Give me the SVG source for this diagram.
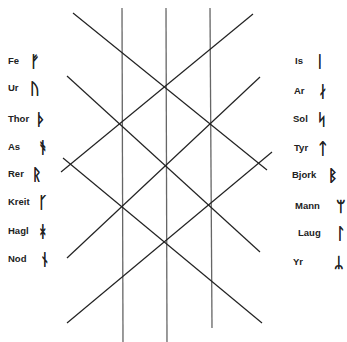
<svg xmlns="http://www.w3.org/2000/svg" width="347" height="342" viewBox="0 0 347 342">
<style>
.v{stroke:#666;stroke-width:1.3;fill:none}
.d{stroke:#222;stroke-width:1.2;fill:none}
.lbl{font-family:"Liberation Sans",Arial,sans-serif;font-size:9.5px;font-weight:bold;fill:#222}
.rune{font-family:"DejaVu Sans","Noto Sans","Liberation Sans",sans-serif;font-size:16px;fill:#222;stroke:#222;stroke-width:0.7;text-anchor:middle}
</style>
<rect width="347" height="342" fill="#fff"/>
<g id="connectors">
<line class="v" x1="122" y1="8" x2="123" y2="342"/>
<line class="v" x1="166" y1="8" x2="167" y2="342"/>
<line class="v" x1="210" y1="8" x2="212" y2="328"/>
<line class="d" x1="73" y1="13" x2="267" y2="170"/>
<line class="d" x1="253" y1="14" x2="61" y2="172"/>
<line class="d" x1="67" y1="76" x2="260" y2="252"/>
<line class="d" x1="260" y1="77" x2="67" y2="258"/>
<line class="d" x1="63" y1="158" x2="262" y2="323"/>
<line class="d" x1="272" y1="152" x2="67" y2="323"/>
</g>
<g id="fe"><text class="lbl" x="8" y="64">Fe</text><text class="rune" x="35" y="67">ᚠ</text></g>
<g id="ur"><text class="lbl" x="8" y="91">Ur</text><text class="rune" x="35" y="94">ᚢ</text></g>
<g id="thor"><text class="lbl" x="8" y="122">Thor</text><text class="rune" x="41" y="125">ᚦ</text></g>
<g id="as"><text class="lbl" x="8" y="150">As</text><text class="rune" x="43" y="153">ᚬ</text></g>
<g id="rer"><text class="lbl" x="8" y="177">Rer</text><text class="rune" x="37" y="180">ᚱ</text></g>
<g id="kreit"><text class="lbl" x="8" y="205">Kreit</text><text class="rune" x="43" y="208">ᚴ</text></g>
<g id="hagl"><text class="lbl" x="8" y="234">Hagl</text><text class="rune" x="43" y="237">ᚼ</text></g>
<g id="nod"><text class="lbl" x="8" y="262">Nod</text><text class="rune" x="45" y="265">ᚾ</text></g>
<g id="is"><text class="lbl" x="295" y="64">Is</text><text class="rune" x="320" y="67">ᛁ</text></g>
<g id="ar"><text class="lbl" x="294" y="94">Ar</text><text class="rune" x="323" y="97">ᛅ</text></g>
<g id="sol"><text class="lbl" x="293" y="122">Sol</text><text class="rune" x="322" y="125">ᛋ</text></g>
<g id="tyr"><text class="lbl" x="294" y="151">Tyr</text><text class="rune" x="323" y="154">ᛏ</text></g>
<g id="bjork"><text class="lbl" x="292" y="178">Bjork</text><text class="rune" x="333" y="181">ᛒ</text></g>
<g id="mann"><text class="lbl" x="295" y="209">Mann</text><text class="rune" x="341" y="212">ᛘ</text></g>
<g id="laug"><text class="lbl" x="298" y="236">Laug</text><text class="rune" x="341" y="239">ᛚ</text></g>
<g id="yr"><text class="lbl" x="293" y="265">Yr</text><text class="rune" x="339" y="268">ᛦ</text></g>
</svg>
